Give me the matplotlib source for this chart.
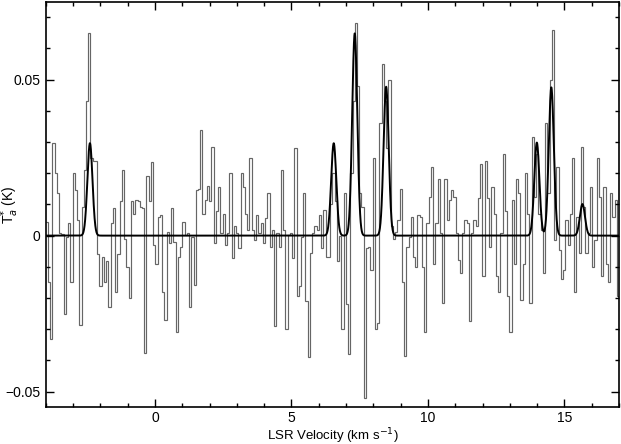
import numpy as np
import matplotlib
matplotlib.use("Agg")
import matplotlib.pyplot as plt
from matplotlib.ticker import MultipleLocator, FixedLocator, FixedFormatter

plt.rcParams['font.family'] = ['Liberation Sans', 'DejaVu Sans']

# velocity range of the spectrum (km/s)
v_start, v_end = -4.0, 17.0

# antenna temperature per channel (K)
tmb = [
    0.0045, -0.015, -0.033, 0.0296, 0.020, 0.0135, 0.0007, 0.0005, -0.025, -0.0003,
    0.004, -0.015, 0.020, 0.0146, 0.005, -0.0286, 0.0093, 0.021, 0.043, 0.065,
    0.025, 0.024, 0.024, -0.006, -0.016, -0.007, -0.015, -0.008, -0.023, 0.004,
    0.009, -0.018, -0.006, 0.011, 0.021, -0.001, -0.010, -0.020, 0.011, 0.007,
    0.0114, 0.011, 0.0093, 0.009, -0.0377, 0.019, 0.011, 0.0235, -0.003, -0.009,
    0.006, 0.0066, -0.018, -0.027, 0.0013, -0.0025, 0.0087, -0.002, -0.031, -0.0067,
    -0.0035, 0.0045, 0.0002, 0.0007, -0.023, -0.0003, -0.0158, 0.0146, 0.015, 0.0338,
    0.007, 0.0114, 0.016, 0.011, 0.0285, -0.0025, 0.008, 0.0157, 0.0007, 0.007,
    -0.003, 0.0007, 0.020, -0.0073, 0.003, 0.0007, -0.004, 0.020, 0.0157, 0.007,
    0.0018, 0.0248, 0.0018, -0.0014, 0.0066, 0.0007, 0.004, -0.0025, 0.0055, 0.0135,
    -0.0035, 0.0018, -0.029, 0.0007, -0.0035, 0.021, 0.0018, -0.030, 0.0002, 0.0007,
    -0.0073, 0.028, -0.0195, -0.016, -0.0003, 0.0135, -0.021, -0.039, -0.0057, 0.0007,
    0.003, 0.0018, 0.0066, -0.004, 0.0082, -0.0067, -0.007, 0.010, 0.020, 0.011,
    -0.008, 0.000, -0.030, 0.0135, -0.022, -0.038, 0.020, 0.043, 0.068, 0.048,
    0.0135, 0.0093, -0.052, -0.004, -0.0035, -0.011, 0.025, -0.030, -0.028, 0.036,
    0.055, 0.043, 0.028, 0.050, 0.003, -0.001, 0.001, 0.005, 0.015, -0.015,
    -0.0387, -0.0035, -0.0003, 0.006, -0.0067, -0.010, 0.0066, 0.006, -0.010, -0.031,
    0.004, 0.0125, 0.022, -0.009, 0.004, 0.018, 0.0007, -0.0217, 0.018, 0.005,
    0.0114, 0.0146, 0.0125, 0.0007, -0.0078, -0.012, 0.0007, 0.005, 0.004, -0.0275,
    0.0007, 0.005, 0.003, 0.012, 0.023, -0.013, 0.024, 0.012, -0.0035, 0.0157,
    0.007, -0.013, -0.018, 0.0007, 0.026, 0.008, -0.0195, -0.031, 0.0114, -0.009,
    0.018, 0.0135, -0.0206, -0.009, 0.020, 0.007, -0.0217, 0.0317, 0.0125, 0.026,
    0.007, 0.0018, -0.012, 0.036, 0.0135, 0.050, 0.066, -0.0014, 0.022, -0.0046,
    -0.014, -0.011, 0.005, -0.003, 0.007, 0.025, -0.018, 0.006, -0.0057, 0.0285,
    0.0093, -0.0057, 0.0007, 0.0157, -0.010, -0.0014, 0.025, 0.0125, -0.013, 0.0157,
    -0.009, -0.015, 0.0135, 0.006, 0.0114, -0.0195,
]

# Gaussian fit components: centre (km/s), peak (K), FWHM (km/s)
fit_centers = [-2.38, 6.55, 7.32, 8.47, 13.99, 14.52, 15.66]
fit_peaks = [0.0296, 0.0296, 0.0648, 0.0477, 0.0298, 0.0475, 0.0101]
fit_fwhm = [0.22, 0.22, 0.22, 0.22, 0.22, 0.22, 0.22]

y_ticks = [-0.05, 0.0, 0.05]
y_labels = ['\u22120.05', '0', '0.05']
x_ticks = [0, 5, 10, 15]

fig = plt.figure(figsize=(6.21, 4.44), dpi=100)
ax = fig.add_axes([0.0736, 0.0827, 0.9232, 0.9139])

edges = np.linspace(v_start, v_end, len(tmb) + 1)
ax.stairs(tmb, edges, color='#666666', linewidth=0.85, baseline=None)

vv = np.linspace(v_start, v_end, 4000)
model = np.zeros_like(vv)
for c, a, w in zip(fit_centers, fit_peaks, fit_fwhm):
    s = w / (2 * np.sqrt(2 * np.log(2)))
    model += a * np.exp(-0.5 * ((vv - c) / s) ** 2)
ax.plot(vv, model, color='black', linewidth=1.4)

ax.set_xlim(v_start, v_end)
ax.set_ylim(-0.055, 0.075)

ax.xaxis.set_major_locator(FixedLocator(x_ticks))
ax.xaxis.set_minor_locator(MultipleLocator(1))
ax.yaxis.set_major_locator(FixedLocator(y_ticks))
ax.yaxis.set_major_formatter(FixedFormatter(y_labels))
ax.yaxis.set_minor_locator(MultipleLocator(0.01))

ax.tick_params(which='both', direction='in', top=True, right=True, labelsize=10, width=1.0)
ax.tick_params(which='major', length=5.5)
ax.tick_params(axis='x', which='major', pad=3)
ax.tick_params(axis='y', which='major', pad=4)
ax.tick_params(which='minor', length=3)
for sp in ax.spines.values():
    sp.set_linewidth(1.2)

ax.set_xlabel('LSR Velocity (km s$^{-1}$)', fontsize=9.5)
ax.xaxis.set_label_coords(0.5, -0.046)
ax.set_ylabel('T$_a^{*}$ (K)', fontsize=10)
ax.yaxis.set_label_coords(-0.043, 0.5)

fig.savefig('out.png', dpi=100)
